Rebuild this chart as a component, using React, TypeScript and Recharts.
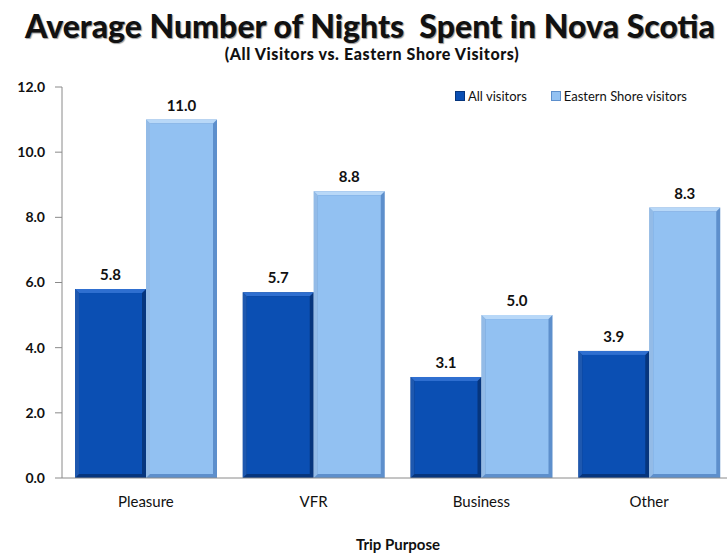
import React, { useLayoutEffect } from 'react';
import { BarChart, Bar, XAxis, YAxis, LabelList } from 'recharts';

const categories = ['Pleasure', 'VFR', 'Business', 'Other'];
const allVisitors = [5.8, 5.7, 3.1, 3.9];
const easternShore = [11.0, 8.8, 5.0, 8.3];
const yTicks = [0, 2, 4, 6, 8, 10, 12];
const boundaryTicks = [0, 1, 2, 3, 4];

const data = categories.map((name, i) => ({
  name,
  pos: i + 0.5,
  all: allVisitors[i],
  eastern: easternShore[i]
}));

const FONT = 'Lato, "Open Sans", sans-serif';

// bevelled bar like the old Excel 2007 style
const bevel = (main: string, light: string, dark: string) => (props: any) => {
  const { x, y, width, height } = props;
  if (!height || height <= 0) return null;
  const b = 4;
  return <g>
      <rect x={x} y={y} width={width} height={height} fill={dark} />
      <polygon points={`${x},${y} ${x + width},${y} ${x + width - b},${y + b} ${x + b},${y + b}`} fill={light} />
      <polygon points={`${x},${y} ${x + b},${y + b} ${x + b},${y + height - b} ${x},${y + height}`} fill={light} opacity={0.6} />
      <rect x={x + b} y={y + b} width={width - 2 * b} height={height - 2 * b} fill={main} />
    </g>;
};

const tickStyle = { fill: '#111', fontSize: 14, fontWeight: 700, fontFamily: FONT };
const labelStyle = { fill: '#111', fontSize: 15, fontWeight: 700, fontFamily: FONT };

export default function App() {
  useLayoutEffect(() => {
    document.body.style.margin = '0';
    document.body.style.overflow = 'hidden';
  }, []);
  return <div style={{
    position: 'relative',
    width: 727,
    height: 555,
    overflow: 'hidden',
    background: '#fff'
  }}>
      <div style={{
      position: 'absolute',
      top: 6,
      left: 0,
      width: 740,
      textAlign: 'center',
      fontFamily: FONT,
      fontWeight: 900,
      fontSize: 32,
      whiteSpace: 'pre',
      color: '#111',
      textShadow: '1px 1px 1px #999'
    }}>
        Average Number of Nights  Spent in Nova Scotia
      </div>
      <div style={{
      position: 'absolute',
      top: 44,
      left: 0,
      width: 744,
      textAlign: 'center',
      fontFamily: FONT,
      fontWeight: 900,
      fontSize: 16,
      letterSpacing: 0.6,
      color: '#111'
    }}>
        (All Visitors vs. Eastern Shore Visitors)
      </div>
      <BarChart width={760} height={555} data={data} margin={{
      top: 87,
      right: 27,
      left: 0,
      bottom: 0
    }} barCategoryGap={13} barGap={0} style={{ position: 'absolute', top: 0, left: 0 }}>
        <XAxis xAxisId="b" type="number" dataKey="pos" domain={[0, 4]} ticks={boundaryTicks} tick={false} tickSize={7} axisLine={false} tickLine={{ stroke: '#8a8a8a' }} height={0} />
        <XAxis dataKey="name" axisLine={{ stroke: '#8a8a8a' }} tickLine={false} tickSize={0} tickMargin={18} tick={{ ...tickStyle, fontWeight: 400, fontSize: 15 }} height={77} />
        <YAxis domain={[0, 12]} ticks={yTicks} interval={0} width={62} tickFormatter={v => v.toFixed(1)} axisLine={{ stroke: '#8a8a8a' }} tickLine={{ stroke: '#8a8a8a' }} tickSize={7} tickMargin={10} tick={tickStyle} />
        <Bar dataKey="all" name="All visitors" isAnimationActive={false} shape={bevel('#0b4fb3', '#2f6fd0', '#06357d')}>
          <LabelList dataKey="all" position="top" offset={9} formatter={(v: number) => v.toFixed(1)} style={labelStyle} />
        </Bar>
        <Bar dataKey="eastern" name="Eastern Shore visitors" isAnimationActive={false} shape={bevel('#92c1f2', '#b8d8f8', '#5d8fcc')}>
          <LabelList dataKey="eastern" position="top" offset={9} formatter={(v: number) => v.toFixed(1)} style={labelStyle} />
        </Bar>
      </BarChart>
      <div style={{
      position: 'absolute',
      top: 535,
      left: 298,
      width: 200,
      textAlign: 'center',
      fontFamily: FONT,
      fontWeight: 700,
      fontSize: 15,
      color: '#111'
    }}>
        Trip Purpose
      </div>
      <div style={{
      position: 'absolute',
      top: 88,
      left: 455,
      display: 'flex',
      gap: 24,
      fontFamily: FONT,
      fontSize: 13,
      color: '#111',
      whiteSpace: 'nowrap'
    }}>
        <span style={{ display: 'flex', alignItems: 'center', gap: 3 }}>
          <span style={{ width: 8, height: 8, background: '#0b4fb3', border: '1px solid #06357d' }} />
          All visitors
        </span>
        <span style={{ display: 'flex', alignItems: 'center', gap: 3 }}>
          <span style={{ width: 8, height: 8, background: '#92c1f2', border: '1px solid #5d8fcc' }} />
          Eastern Shore visitors
        </span>
      </div>
    </div>;
}
